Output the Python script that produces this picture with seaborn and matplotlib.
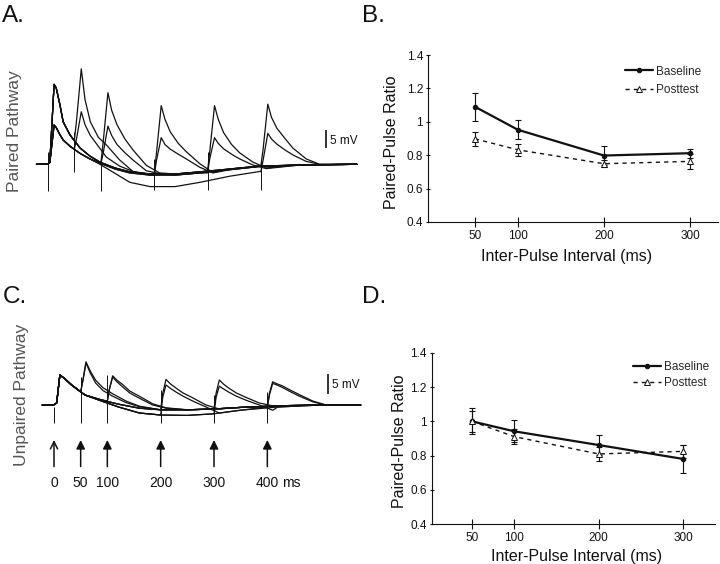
import matplotlib
matplotlib.use('Agg')
import matplotlib.pyplot as plt
import numpy as np
import pandas as pd
import seaborn as sns
from matplotlib.ticker import FuncFormatter

# ---- data ----
# paired-pulse ratio panels (B, D)
INTERVALS = [50, 100, 200, 300]
B_BASE = [1.09, 0.952, 0.798, 0.812]
B_BASE_ERR = [0.085, 0.057, 0.057, 0.027]
B_POST = [0.898, 0.832, 0.749, 0.763]
B_POST_ERR = [0.04, 0.038, 0.02, 0.045]
D_BASE = [1.0, 0.942, 0.862, 0.781]
D_BASE_ERR = [0.075, 0.065, 0.06, 0.08]
D_POST = [1.0, 0.911, 0.81, 0.825]
D_POST_ERR = [0.06, 0.045, 0.042, 0.04]
YTICKS = [0.4, 0.6, 0.8, 1.0, 1.2, 1.4]

# voltage traces (A, C): ms / mV
STIM_ALL = [0, 50, 100, 200, 300, 400]
STIM_MS = [50, 100, 200, 300, 400]
STIM_LABELS = ['0', '50', '100', '200', '300', '400']

SWEEP_T_A = [-21, -1, 4, 12, 16, 23, 29, 42, 61, 79, 98, 126, 154, 192, 239, 286, 342, 398, 473, 580]
BASE_V_A = [0, 0, 0.5, 22.2, 21.2, 16.5, 11.8, 8.1, 4.5, 2.3, 0.6, -1.0, -2.1, -2.7, -2.7, -2.1, -1.3, -0.5, -0.2, 0]
POST_V_A = [0, 0, 0.5, 10.9, 10.2, 8.2, 6.75, 5.0, 3.0, 1.5, 0.3, -1.3, -2.4, -3.0, -3.0, -2.4, -1.5, -0.6, -0.2, 0]
DEEP_V_A = [0, 0, 0.5, 10.9, 10.2, 8.2, 6.75, 5.0, 3.0, 1.5, 0.0, -2.5, -5.0, -6.2, -6.2, -5.0, -3.3, -2.0, -0.4, 0]
RESP_T_A = [0, 4, 13, 20, 30, 45, 60, 85, 110]
A_TALL = [
    [6.6, 12, 26.5, 18, 11.8, 7.5, 5.4, 1.2, -2.0],
    [0.6, 6, 19.9, 15, 11, 7, 4, -0.3, -2.4],
    [-2.7, 3, 16.3, 12.5, 9, 5.8, 3.5, 0.2, -2.3],
    [-1.8, 3.5, 16.3, 12.5, 8.8, 5.5, 3.2, 0.6, -1.0],
    [-0.5, 4, 16.7, 13, 10, 7.2, 4.5, 1.5, 0],
]
A_SHORT = [
    [4.2, 7, 14.6, 11, 8, 5, 2, -0.5, -2.0],
    [0.3, 3, 10.6, 8, 5.5, 3.2, 1.2, -1.8, -2.6],
    [-3.0, 1, 7.4, 5.5, 4.2, 2.8, 1.5, -0.8, -2.4],
    [-2.4, 1.5, 7.4, 5.8, 4.3, 2.8, 1.5, -0.2, -1.2],
    [-2.0, 1, 8.6, 7, 5.6, 4, 2.6, 0.8, 0],
]
A_TALL_SWEEP = ['base', 'base', 'base', 'base', 'base']
A_SHORT_SWEEP = ['post', 'post', 'post', 'post', 'deep']
ART_A_TOP = [3.5, 9.1, 2.6, 1.5, 3.5, 1.2]
ART_A_BOT = [-7.5, -2.1, -7.4, -7.1, -7.1, -7.1]

SWEEP_T_C = [-22, -1, 5, 11, 20, 33, 58, 89, 121, 160, 200, 250, 300, 350, 420, 500, 575]
MAIN_V_C = [0, 0, 0.5, 7.5, 6.6, 5.0, 2.5, 1.25, 0.2, -0.8, -1.2, -1.2, -1.0, -0.6, -0.2, 0, 0]
DEEP_V_C = [0, 0, 0.5, 7.5, 6.6, 5.0, 2.5, 1.0, -0.5, -2.0, -2.5, -2.6, -2.2, -1.3, -0.5, 0, 0]
RESP_T_C = [0, 4, 10, 18, 28, 42, 60, 85, 110]
C_HI = [
    [3.3, 6, 10.8, 8.5, 6.2, 4.3, 2.8, 1.0, -0.3],
    [1.0, 4, 7.3, 6.2, 5.2, 3.5, 2.2, 0.3, -0.7],
    [-1.2, 3, 6.4, 5.3, 4.3, 3.0, 1.8, 0.0, -1.0],
    [-1.0, 3, 6.25, 5.2, 4.2, 3.0, 1.9, 0.5, -0.2],
    [-0.4, 3, 5.8, 5.3, 4.8, 3.8, 2.6, 1.0, 0.0],
]
C_LO = [
    [3.3, 6, 10.5, 8.0, 5.5, 3.6, 2.2, 0.6, -0.4],
    [1.0, 4, 7.0, 5.8, 4.6, 3.0, 1.7, 0.0, -0.8],
    [-2.5, 2, 5.0, 4.2, 3.3, 2.2, 1.0, -0.5, -2.0],
    [-2.2, 2, 4.7, 4.0, 3.2, 2.2, 1.2, 0.0, -1.3],
    [-0.5, 2.5, 5.4, 5.0, 4.4, 3.4, 2.2, 0.8, 0.0],
]
C_HI_SWEEP = ['main', 'main', 'main', 'main', 'main']
C_LO_SWEEP = ['main', 'main', 'deep', 'deep', 'deep']
ART_C_TOP = [-0.4, 7.1, 7.5, 3.75, 2.5, 3.3]
ART_C_BOT = [-4.6, -4.6, -4.5, -4.6, -4.5, -4.6]

# ---- style ----
sns.set_theme(style='ticks')
plt.rcParams['font.family'] = ['Liberation Sans', 'DejaVu Sans']
INK = '#111111'

W, H = 720, 564
fig = plt.figure(figsize=(7.2, 5.64), dpi=100)


def rect(x0, y0, x1, y1):
    # pixel box -> figure fraction
    return [x0 / W, 1 - y1 / H, (x1 - x0) / W, (y1 - y0) / H]


def ftext(x, y, s, **kw):
    fig.text(x / W, 1 - y / H, s, **kw)


def trace_frame(sweep_t, sweeps, resp_t, resps, names, start=0):
    rows = []
    for k, (stim, vals, name) in enumerate(zip(STIM_MS, resps, names)):
        sweep_v = sweeps[name]
        end = stim + resp_t[-1]
        rows += [(start + k, t, v) for t, v in zip(sweep_t, sweep_v) if t < stim]
        rows += [(start + k, stim + r, v) for r, v in zip(resp_t, vals)]
        rows += [(start + k, t, v) for t, v in zip(sweep_t, sweep_v) if t > end]
    return pd.DataFrame(rows, columns=['trace', 't', 'v'])


# ---- A: paired pathway traces ----
axA = fig.add_axes(rect(30, 55, 362, 200))
sweeps_a = {'base': BASE_V_A, 'post': POST_V_A, 'deep': DEEP_V_A}
df_a = pd.concat([
    trace_frame(SWEEP_T_A, sweeps_a, RESP_T_A, A_TALL, A_TALL_SWEEP),
    trace_frame(SWEEP_T_A, sweeps_a, RESP_T_A, A_SHORT, A_SHORT_SWEEP, start=10),
])
sns.lineplot(data=df_a, x='t', y='v', units='trace', estimator=None, sort=False,
             color=INK, linewidth=0.9, legend=False, ax=axA)
axA.vlines(STIM_ALL, ART_A_BOT, ART_A_TOP, color=INK, lw=0.7)
axA.vlines(522, 4.4, 9.4, color=INK, lw=1.2)
axA.text(529, 6.5, '5 mV', fontsize=8.5, va='center', ha='left', color=INK)
axA.set_xlim(-33.2, 589.7)
axA.set_ylim(-9.92, 30.36)
axA.set_axis_off()

# ---- C: unpaired pathway traces ----
axC = fig.add_axes(rect(30, 340, 362, 500))
sweeps_c = {'main': MAIN_V_C, 'deep': DEEP_V_C}
df_c = pd.concat([
    trace_frame(SWEEP_T_C, sweeps_c, RESP_T_C, C_HI, C_HI_SWEEP),
    trace_frame(SWEEP_T_C, sweeps_c, RESP_T_C, C_LO, C_LO_SWEEP, start=10),
])
sns.lineplot(data=df_c, x='t', y='v', units='trace', estimator=None, sort=False,
             color=INK, linewidth=0.9, legend=False, ax=axC)
axC.vlines(STIM_ALL, ART_C_BOT, ART_C_TOP, color=INK, lw=0.7)
axC.vlines(514, 2.75, 7.75, color=INK, lw=1.2)
axC.text(522, 4.9, '5 mV', fontsize=8.5, va='center', ha='left', color=INK)
for i, (t, lab) in enumerate(zip(STIM_ALL, STIM_LABELS)):
    style = '->' if i == 0 else '-|>'
    axC.annotate('', xy=(t, -8.75), xytext=(t, -15.4),
                 arrowprops=dict(arrowstyle=style, color=INK, lw=1.1,
                                 mutation_scale=13, shrinkA=0, shrinkB=0))
    axC.text(t, -19.6, lab, fontsize=10, ha='center', va='center', color=INK)
axC.text(428, -19.6, 'ms', fontsize=10, ha='left', va='center', color=INK)
axC.set_xlim(-45, 577.5)
axC.set_ylim(-23.75, 16.25)
axC.set_axis_off()


# ---- B / D: paired-pulse ratio ----
def ppr_panel(ax, base, base_err, post, post_err, xlim, anchor, rowgap):
    ax.errorbar(INTERVALS, base, yerr=base_err, fmt='none', ecolor=INK,
                elinewidth=0.8, capsize=2.2, capthick=0.8, zorder=1.5)
    ax.errorbar(INTERVALS, post, yerr=post_err, fmt='none', ecolor=INK,
                elinewidth=0.8, capsize=2.2, capthick=0.8, zorder=1.5)
    sns.lineplot(x=INTERVALS, y=base, ax=ax, color=INK, linewidth=1.6,
                 marker='o', markersize=3.2, markeredgecolor=INK, label='Baseline')
    sns.lineplot(x=INTERVALS, y=post, ax=ax, color=INK, linewidth=1.0,
                 linestyle=(0, (3, 3)), marker='^', markersize=4.5,
                 markerfacecolor='white', markeredgecolor=INK, markeredgewidth=0.7,
                 label='Posttest')
    ax.set_xlim(*xlim)
    ax.set_ylim(0.4, 1.4)
    ax.set_xticks(INTERVALS)
    ax.set_yticks(YTICKS)
    ax.yaxis.set_major_formatter(FuncFormatter(lambda v, p: f'{v:g}'))
    ax.set_xlabel('')
    ax.set_ylabel('')
    ax.tick_params(axis='x', direction='inout', length=6.5, width=0.8, pad=2.5,
                   labelsize=8.5, colors=INK)
    ax.tick_params(axis='y', direction='inout', length=3.5, width=0.8, pad=1.8,
                   labelsize=8.5, colors=INK)
    sns.despine(ax=ax)
    for s in ['left', 'bottom']:
        ax.spines[s].set_linewidth(0.8)
        ax.spines[s].set_color(INK)
    ax.patch.set_alpha(0)
    ax.legend(loc='upper left', bbox_to_anchor=anchor, frameon=False,
              borderpad=0, borderaxespad=0, handlelength=2.4, handletextpad=0.25,
              labelspacing=rowgap, fontsize=8.5)


axB = fig.add_axes(rect(428, 55, 718, 222))
ppr_panel(axB, B_BASE, B_BASE_ERR, B_POST, B_POST_ERR, (-4.65, 332.6), (0.679, 0.937), 0.55)
axD = fig.add_axes(rect(431.7, 352.7, 715, 524.3))
ppr_panel(axD, D_BASE, D_BASE_ERR, D_POST, D_POST_ERR, (2.3, 338), (0.71, 0.952), 0.33)

lab_kw = dict(fontsize=11.5, color=INK, ha='center', va='center')
ftext(567, 256, 'Inter-Pulse Interval (ms)', **lab_kw)
ftext(391.7, 142, 'Paired-Pulse Ratio', rotation=90, **lab_kw)
ftext(576.5, 556, 'Inter-Pulse Interval (ms)', **lab_kw)
ftext(400, 441, 'Paired-Pulse Ratio', rotation=90, **lab_kw)

# side labels and panel letters
side_kw = dict(fontsize=12.5, color='#555555', ha='center', va='center', rotation=90)
ftext(15, 131, 'Paired Pathway', **side_kw)
ftext(22, 395, 'Unpaired Pathway', **side_kw)
let_kw = dict(fontsize=17.5, color=INK, ha='left', va='baseline')
ftext(2, 21.7, 'A.', **let_kw)
ftext(362, 21.7, 'B.', **let_kw)
ftext(3, 303, 'C.', **let_kw)
ftext(362, 303, 'D.', **let_kw)

fig.savefig('out.png', dpi=100, facecolor='white')
print('done')
